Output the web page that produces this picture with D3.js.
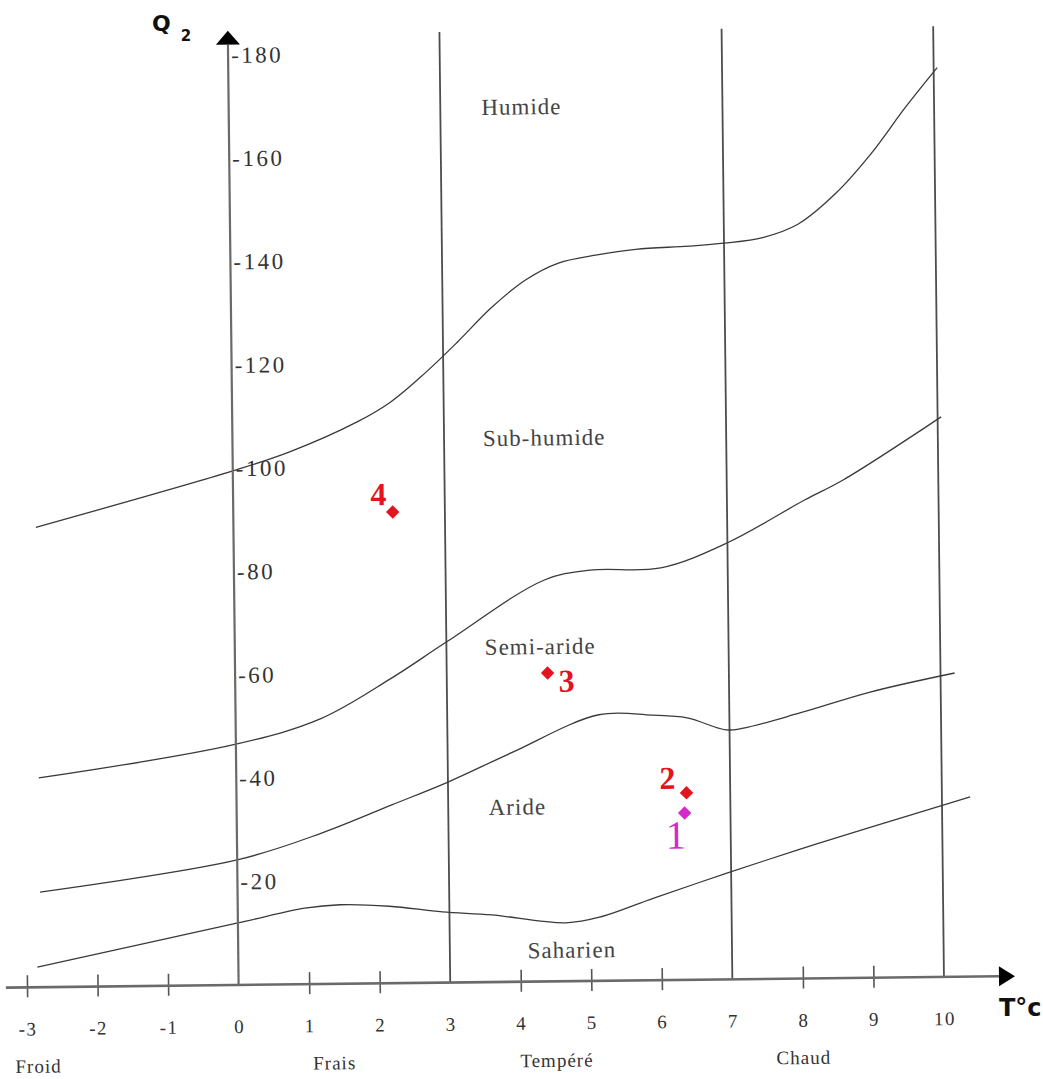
<!DOCTYPE html>
<html>
<head>
<meta charset="utf-8">
<script src="https://cdn.jsdelivr.net/npm/d3@7"></script>
<style>
body { margin: 0; background: #fff; }
svg { display: block; }
</style>
</head>
<body>
<svg width="1043" height="1079"></svg>
<script>
// axes
const tTicks = [-3, -2, -1, 0, 1, 2, 3, 4, 5, 6, 7, 8, 9, 10];
const qTicks = [20, 40, 60, 80, 100, 120, 140, 160, 180];
const tLimits = [3, 7, 10];

// stage limits (T in °C, Q2)
const humideT = [-2.8, 0, 0.8, 1.77, 2.25, 2.74, 3.21, 3.69, 4.18, 4.65, 5.2, 5.75, 6.5, 7.0, 7.55, 8.05, 8.6, 9.1, 9.6, 10.05];
const humideQ = [89, 99.5, 103, 108.7, 112.5, 118, 124, 130.5, 135.8, 139, 140.5, 141.5, 142, 142.5, 143.5, 146, 152, 159.5, 168.5, 176];

const subHumideT = [-2.8, 0, 1.2, 2.2, 3.0, 4.4, 5.05, 6.05, 7.0, 8.1, 8.65, 10.05];
const subHumideQ = [40.5, 46.6, 51.3, 58.9, 65.9, 77.7, 79.5, 79.8, 84.5, 92.6, 96.4, 108.4];

const semiArideT = [-2.8, 0, 1.2, 2.2, 3.0, 3.9, 5.15, 5.9, 6.4, 6.95, 7.2, 8.0, 9.0, 10.2];
const semiArideQ = [18.4, 24.2, 29.2, 34.5, 38.8, 44.3, 51.5, 51.3, 50.7, 48.3, 48.6, 51.4, 55.3, 58.8];

const arideT = [-2.85, 0, 0.95, 1.45, 2.15, 2.9, 3.6, 4.65, 5.15, 5.9, 6.95, 7.95, 9.0, 10.4];
const arideQ = [3.9, 12.0, 14.7, 15.3, 14.9, 13.7, 13.0, 11.3, 12.4, 15.9, 20.6, 24.9, 29.2, 34.8];

const zoneNames = ["Humide", "Sub-humide", "Semi-aride", "Aride", "Saharien"];
const zoneT = [4.15, 4.42, 4.33, 3.98, 4.73];
const zoneQ = [169.3, 105.2, 64.8, 33.8, 6.0];

const winterNames = ["Froid", "Frais", "Tempéré", "Chaud"];
const winterT = [-2.85, 1.35, 4.5, 8.0];

const stationNames = ["1", "2", "3", "4"];
const stationT = [6.35, 6.38, 4.43, 2.26];
const stationQ = [32.3, 36.2, 59.7, 91.2];

const svg = d3.select("svg");
// the scan is slightly tilted, so the whole frame is rotated a bit
const g = svg.append("g").attr("transform", "translate(233,985) rotate(-0.65)");

const x = d3.scaleLinear().domain([-3, 10]).range([-206, 711]);
const y = d3.scaleLinear().domain([0, 180]).range([0, -930]);

const serif = "'Liberation Serif', 'DejaVu Serif', serif";

// vertical limits
g.selectAll(".tlimit")
    .data(tLimits)
    .enter()
    .append("line")
    .attr("class", "tlimit")
    .attr("x1", d => x(d)).attr("x2", d => x(d))
    .attr("y1", y(0)).attr("y2", y(184))
    .attr("stroke", "#4d4d4d")
    .attr("stroke-width", 1.8);

// stage curves
const line = d3.line()
    .x(d => x(d[0]))
    .y(d => y(d[1]))
    .curve(d3.curveCatmullRom.alpha(0.5));

const curves = [
    d3.zip(humideT, humideQ),
    d3.zip(subHumideT, subHumideQ),
    d3.zip(semiArideT, semiArideQ),
    d3.zip(arideT, arideQ)
];

g.selectAll(".limit")
    .data(curves)
    .enter()
    .append("path")
    .attr("class", "limit")
    .attr("d", line)
    .attr("fill", "none")
    .attr("stroke", "#3a3a3a")
    .attr("stroke-width", 1.3);

// x axis
const xAxis = g.append("g")
    .call(d3.axisBottom(x).tickValues(tTicks).tickSize(10).tickFormat(d => String(d)));
xAxis.select(".domain").remove();
xAxis.selectAll(".tick line")
    .attr("y1", -12).attr("y2", 10)
    .attr("stroke", "#555").attr("stroke-width", 1.6)
    .filter(d => d === 0 || tLimits.includes(d)).remove();
xAxis.selectAll(".tick text")
    .attr("y", 42).attr("dy", "0.32em")
    .attr("fill", "#333")
    .style("font-family", serif)
    .style("font-size", "19px")
    .style("letter-spacing", "1.5px");

g.append("line")
    .attr("x1", x(-3.3)).attr("x2", x(10.78))
    .attr("y1", 0).attr("y2", 0)
    .attr("stroke", "#6a6a6a")
    .attr("stroke-width", 2.6);
g.append("path")
    .attr("d", `M${x(10.78)},-10 L${x(10.78) + 16},0 L${x(10.78)},10 Z`)
    .attr("fill", "#000");

// y axis (T = 0)
g.append("line")
    .attr("x1", x(0)).attr("x2", x(0))
    .attr("y1", y(0)).attr("y2", y(182))
    .attr("stroke", "#6a6a6a")
    .attr("stroke-width", 2.2);
g.append("path")
    .attr("d", `M${x(0) - 12},${y(182)} L${x(0)},${y(182) - 14} L${x(0) + 12},${y(182)} Z`)
    .attr("fill", "#000");

const yAxis = g.append("g")
    .attr("transform", `translate(${x(0)},0)`)
    .call(d3.axisRight(y).tickValues(qTicks).tickSize(0).tickPadding(3).tickFormat(d => "-" + d));
yAxis.select(".domain").remove();
yAxis.selectAll(".tick text")
    .attr("fill", "#333")
    .style("font-family", serif)
    .style("font-size", "23px")
    .style("letter-spacing", "2.5px");

// zone names
g.selectAll(".zone")
    .data(zoneNames)
    .enter()
    .append("text")
    .attr("class", "zone")
    .attr("x", (d, i) => x(zoneT[i]))
    .attr("y", (d, i) => y(zoneQ[i]))
    .attr("text-anchor", "middle")
    .attr("dominant-baseline", "central")
    .attr("fill", "#444")
    .style("font-family", serif)
    .style("font-size", "23px")
    .style("letter-spacing", "1px")
    .text(d => d);

// winter classes under the axis
g.selectAll(".winter")
    .data(winterNames)
    .enter()
    .append("text")
    .attr("class", "winter")
    .attr("x", (d, i) => x(winterT[i]))
    .attr("y", 79)
    .attr("text-anchor", "middle")
    .attr("dominant-baseline", "central")
    .attr("fill", "#333")
    .style("font-family", serif)
    .style("font-size", "19px")
    .style("letter-spacing", "1px")
    .text(d => d);

// stations
const stationColor = { "1": "#d42acb", "2": "#e3141e", "3": "#e3141e", "4": "#e3141e" };
const labelDx = { "1": -9, "2": -19, "3": 19, "4": -14 };
const labelDy = { "1": 22, "2": -15, "3": 8, "4": -18 };

const st = g.selectAll(".station")
    .data(stationNames)
    .enter()
    .append("g")
    .attr("class", "station")
    .attr("transform", (d, i) => `translate(${x(stationT[i])},${y(stationQ[i])})`);

st.append("path")
    .attr("d", d3.symbol(d3.symbolSquare, 90))
    .attr("transform", "rotate(45)")
    .attr("fill", d => stationColor[d]);

st.append("text")
    .attr("x", d => labelDx[d])
    .attr("y", d => labelDy[d])
    .attr("text-anchor", "middle")
    .attr("dominant-baseline", "central")
    .attr("fill", d => stationColor[d])
    .style("font-family", serif)
    .style("font-weight", d => d === "1" ? "normal" : "bold")
    .style("font-size", d => d === "1" ? "40px" : "32px")
    .text(d => d);

// axis titles
const qTitle = svg.append("text")
    .attr("x", 152).attr("y", 31)
    .attr("fill", "#111")
    .style("font-family", "'DejaVu Sans', sans-serif")
    .style("font-weight", "bold");
qTitle.append("tspan").style("font-size", "22px").text("Q");
qTitle.append("tspan").attr("dx", 10).attr("dy", 10).style("font-size", "15px").text("2");

svg.append("text")
    .attr("x", 999).attr("y", 1016)
    .attr("fill", "#111")
    .style("font-family", "'DejaVu Sans', sans-serif")
    .style("font-weight", "bold")
    .style("font-size", "24px")
    .text("T°c");
</script>
</body>
</html>
